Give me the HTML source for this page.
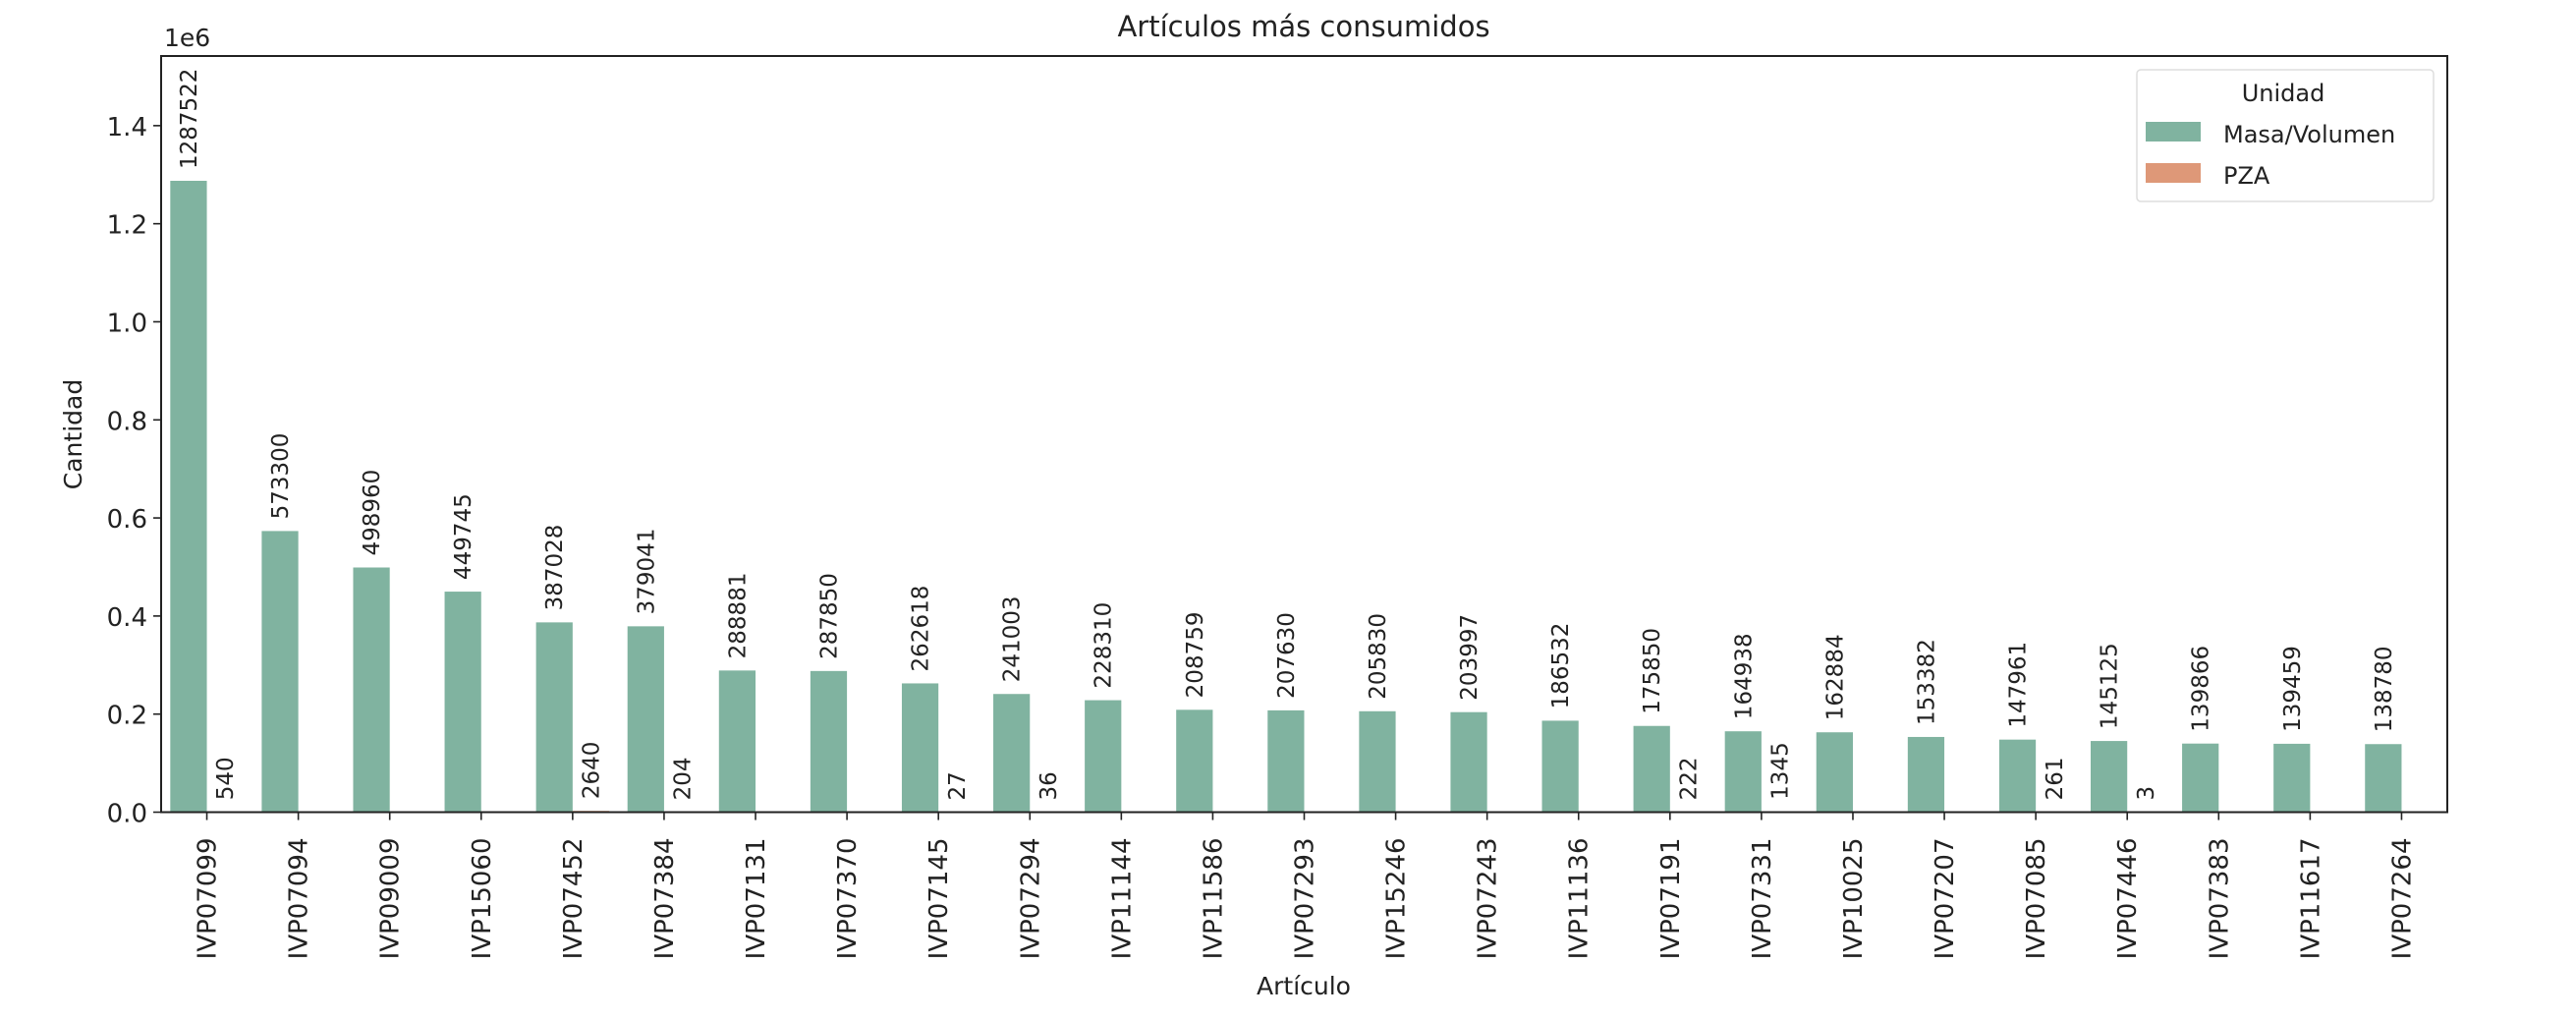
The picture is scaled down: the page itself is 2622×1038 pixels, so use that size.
<!DOCTYPE html>
<html><head><meta charset="utf-8"><style>
html,body{margin:0;padding:0;background:#fff;}
svg{display:block;font-family:"DejaVu Sans","Liberation Sans",sans-serif;}
</style></head><body>
<svg id="chart" width="2622" height="1038" viewBox="0 0 2622 1038" xmlns="http://www.w3.org/2000/svg"></svg>
<script>
const categories = ["IVP07099","IVP07094","IVP09009","IVP15060","IVP07452","IVP07384","IVP07131","IVP07370","IVP07145","IVP07294","IVP11144","IVP11586","IVP07293","IVP15246","IVP07243","IVP11136","IVP07191","IVP07331","IVP10025","IVP07207","IVP07085","IVP07446","IVP07383","IVP11617","IVP07264"];
const masaValues = [1287522,573300,498960,449745,387028,379041,288881,287850,262618,241003,228310,208759,207630,205830,203997,186532,175850,164938,162884,153382,147961,145125,139866,139459,138780];
const pzaValues = [540,null,null,null,2640,204,null,null,27,36,null,null,null,null,null,null,222,1345,null,null,261,3,null,null,null];
const yTicks = [0,0.2,0.4,0.6,0.8,1.0,1.2,1.4];
const yTickLabels = ["0.0","0.2","0.4","0.6","0.8","1.0","1.2","1.4"];

const NS="http://www.w3.org/2000/svg";
const svg=document.getElementById('chart');
const L=164,R=2491,T=57,B=826.5;
const yMax=1.542e6;
const band=(R-L)/categories.length;
function xC(i){return L+band*(i+0.5);}
function y(v){return B-(v/yMax)*(B-T);}
function mk(tag,attrs,parent){const e=document.createElementNS(NS,tag);for(const k in attrs)e.setAttribute(k,attrs[k]);(parent||svg).appendChild(e);return e;}

const title=mk('text',{x:1327,y:37,'font-size':29,'text-anchor':'middle',fill:'#222'});


title.textContent='Artículos más consumidos';

const bw=band*0.4;
categories.forEach((c,i)=>{
  const cx=xC(i);
  const v=masaValues[i];
  if(v!=null){
    const r=mk('rect',{x:cx-bw,y:y(v),width:bw,height:B-y(v),fill:'#80b3a0'});
    
    
    const t=mk('text',{transform:`translate(${cx-bw/2+8},${y(v)-12}) rotate(-90)`,'font-size':23,fill:'#222'});
    
    
    t.textContent=v;
  }
  const p=pzaValues[i];
  if(p!=null){
    const r=mk('rect',{x:cx,y:y(p),width:bw,height:B-y(p),fill:'#de9878'});
    
    
    const t=mk('text',{transform:`translate(${cx+bw/2+8},${y(p)-12}) rotate(-90)`,'font-size':23,fill:'#222'});
    
    
    t.textContent=p;
  }
  const tk=mk('line',{x1:cx,x2:cx,y1:B,y2:B+8,stroke:'#222','stroke-width':1.6});
  
  
  const lb=mk('text',{transform:`translate(${cx+9},${B+26}) rotate(-90)`,'font-size':26,'text-anchor':'end',fill:'#222'});
  
  
  lb.textContent=c;
});

yTicks.forEach((v,i)=>{
  const yy=y(v*1e6);
  const tk=mk('line',{x1:L-8,x2:L,y1:yy,y2:yy,stroke:'#222','stroke-width':1.6});
  
  
  const lb=mk('text',{x:L-14,y:yy+10,'font-size':26,'text-anchor':'end',fill:'#222'});
  
  
  lb.textContent=yTickLabels[i];
});

const frame=mk('rect',{x:L,y:T,width:R-L,height:B-T,fill:'none',stroke:'#222','stroke-width':2});



const off=mk('text',{x:167,y:47,'font-size':25,fill:'#222'});


off.textContent='1e6';

const yl=mk('text',{transform:'translate(83,442) rotate(-90)','font-size':25,'text-anchor':'middle',fill:'#222'});


yl.textContent='Cantidad';

const xl=mk('text',{x:1327,y:1012,'font-size':25,'text-anchor':'middle',fill:'#222'});


xl.textContent='Artículo';

const lg=mk('g',{});


mk('rect',{x:2175,y:71,width:302,height:134,rx:4,fill:'#fff','fill-opacity':0.8,stroke:'#ddd','stroke-width':1.5},lg);
const lt=mk('text',{x:2324,y:103,'font-size':24,'text-anchor':'middle',fill:'#222'},lg);


lt.textContent='Unidad';
const e1=mk('rect',{x:2184,y:124,width:56,height:20,fill:'#80b3a0'},lg);


const t1=mk('text',{x:2263,y:145,'font-size':24,fill:'#222'},lg);


t1.textContent='Masa/Volumen';
const e2=mk('rect',{x:2184,y:166,width:56,height:20,fill:'#de9878'},lg);


const t2=mk('text',{x:2263,y:187,'font-size':24,fill:'#222'},lg);


t2.textContent='PZA';
</script>
</body></html>
